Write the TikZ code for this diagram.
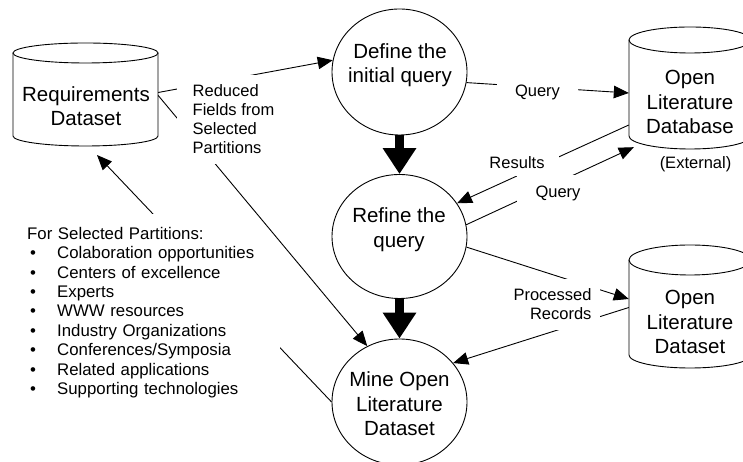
\documentclass[tikz,border=0pt]{standalone}
\usepackage{fontspec}
\setmainfont{Liberation Sans}
\usetikzlibrary{shapes.geometric,arrows.meta}
\tikzset{
  nodetxt/.style={align=center, font=\fontsize{20.5}{24.5}\selectfont, inner sep=0pt},
  lbl/.style={font=\fontsize{16.5}{19}\selectfont, fill=white},
  proc/.style={ellipse, draw, line width=0.9pt, minimum width=135pt, inner sep=0pt},
  cylbody/.style={rectangle, inner sep=0pt, minimum width=122pt},
  cylline/.style={line width=0.9pt},
  arr/.style={line width=0.9pt, -{Triangle[length=15pt,width=12.5pt]}},
  bigarr/.style={line width=8.5pt, -{Triangle[length=26pt,width=32pt]}},
}
\begin{document}
\begin{tikzpicture}[x=1pt,y=1pt]
\useasboundingbox (0,0) rectangle (743,462);

% ---- cylinders (outline) ----
% Requirements Dataset
\draw[cylline] (13,409) -- (13,326) arc[start angle=180,end angle=360,x radius=72.5pt,y radius=10pt] -- (158,409);
\draw[cylline] (85.5,409) ellipse [x radius=72.5pt, y radius=10pt];
\node[cylbody, minimum width=145pt, minimum height=83pt] (req) at (85.5,367.5) {};
\node[nodetxt] (reqt) at (86,356) {Requirements\\Dataset};

% Open Literature Database
\draw[cylline] (629,422) -- (629,326) arc[start angle=180,end angle=360,x radius=61pt,y radius=13pt] -- (751,422);
\draw[cylline] (690,422) ellipse [x radius=61pt, y radius=13pt];
\node[cylbody, minimum height=96pt] (oldb) at (690,374) {};
\node[nodetxt] (oldbt) at (690,360) {Open\\Literature\\Database};
\node[font=\fontsize{16.5}{19}\selectfont, inner sep=0pt] (ext) at (695.5,298) {(External)};

% Open Literature Dataset
\draw[cylline] (629,202) -- (629,107) arc[start angle=180,end angle=360,x radius=61pt,y radius=13pt] -- (751,202);
\draw[cylline] (690,202) ellipse [x radius=61pt, y radius=15pt];
\node[cylbody, minimum height=95pt] (olds) at (690,154.5) {};
\node[nodetxt] (oldst) at (690,140) {Open\\Literature\\Dataset};

% ---- processes ----
\node[proc, minimum height=126pt] (def) at (399.5,390) {};
\node[nodetxt] (deft) at (400,397) {Define the\\initial query};
\node[proc, minimum height=124pt] (ref) at (399.5,225.5) {};
\node[nodetxt] (reft) at (399,232.5) {Refine the\\query};
\node[proc, minimum height=126pt] (mine) at (399.5,60) {};
\node[nodetxt] (minet) at (399.5,58) {Mine Open\\Literature\\Dataset};

% ---- thick flow ----
\draw[bigarr] (def.south) -- (ref.north);
\draw[bigarr] (ref.south) -- (mine.north);

% ---- Mine -> Requirements (behind list) ----
\coordinate (reqtip) at (97,307);
\draw[arr] (mine.west) -- (reqtip);

% list
\node[anchor=north west, fill=white, inner xsep=5pt, inner ysep=13pt, text width=248pt, align=left,
      font=\fontsize{16.8}{19.4}\selectfont] (list) at (22,248)
{For Selected Partitions:\\
\hspace*{3pt}\makebox[27pt][l]{\textbullet}Colaboration opportunities\\
\hspace*{3pt}\makebox[27pt][l]{\textbullet}Centers of excellence\\
\hspace*{3pt}\makebox[27pt][l]{\textbullet}Experts\\
\hspace*{3pt}\makebox[27pt][l]{\textbullet}WWW resources\\
\hspace*{3pt}\makebox[27pt][l]{\textbullet}Industry Organizations\\
\hspace*{3pt}\makebox[27pt][l]{\textbullet}Conferences/Symposia\\
\hspace*{3pt}\makebox[27pt][l]{\textbullet}Related applications\\
\hspace*{3pt}\makebox[27pt][l]{\textbullet}Supporting technologies};

% ---- Requirements -> Define, Requirements -> Mine ----
\draw[arr] ([yshift=2pt]req.east) -- (def.170);
\draw[arr] ([yshift=-1pt]req.east) -- (mine.120);
\node[lbl, align=left, inner xsep=15.5pt, inner ysep=10pt] (lred) at (233.5,342.5)
  {Reduced\\Fields from\\Selected\\Partitions};

% ---- Define -> Database ----
\draw[arr] (def.-9) -- ([yshift=-5pt]oldb.west);
\node[lbl, inner xsep=18pt, inner ysep=6pt] (lq1) at (537.5,370) {Query};

% ---- Database -> Refine (Results), Refine -> Database (Query) ----
\draw[arr] ([yshift=-37pt]oldb.west) -- (ref.30);
\draw[arr] (ref.10) -- ([xshift=5pt,yshift=-11pt]oldb.south west);
\node[lbl, inner xsep=14pt, inner ysep=7pt] (lres) at (517,299) {Results};
\node[lbl, inner xsep=18.5pt, inner ysep=11pt] (lq2) at (558,269) {Query};

% ---- Refine -> Dataset, Dataset -> Mine ----
\draw[arr] (ref.-9) -- ([yshift=8.5pt]olds.west);
\draw[arr] (olds.west) -- (mine.36);
\node[lbl, align=right, inner xsep=8.5pt, inner ysep=10pt] (lproc) at (552.5,157.5)
  {Processed\\Records};
\end{tikzpicture}
\end{document}
